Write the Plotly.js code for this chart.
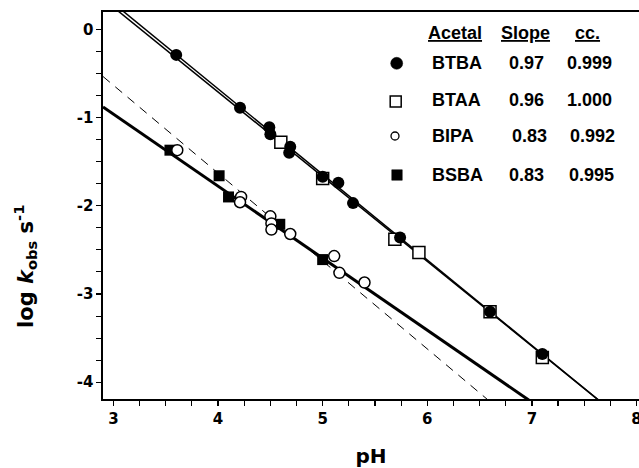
<!DOCTYPE html>
<html>
<head>
<meta charset="utf-8">
<script src="https://cdn.plot.ly/plotly-3.0.1.min.js"></script>
<style>html,body{margin:0;padding:0;background:#fff;}#chart{width:639px;height:468px;}</style>
</head>
<body>
<div id="chart"></div>
<script>
// ---- data ----
var btbaPH   = [3.60, 4.21, 4.49, 4.50, 4.69, 4.68, 5.00, 5.15, 5.29, 5.74, 6.60, 7.10];
var btbaLogK = [-0.29, -0.89, -1.11, -1.19, -1.33, -1.40, -1.67, -1.74, -1.97, -2.36, -3.20, -3.68];

var btaaPH   = [4.60, 5.00, 5.69, 5.92, 6.60, 7.10];
var btaaLogK = [-1.28, -1.69, -2.38, -2.53, -3.20, -3.72];

var bipaPH   = [3.61, 4.22, 4.21, 4.50, 4.51, 4.51, 4.69, 5.11, 5.16, 5.40];
var bipaLogK = [-1.37, -1.90, -1.96, -2.12, -2.20, -2.27, -2.32, -2.57, -2.76, -2.87];

var bsbaPH   = [3.54, 4.01, 4.10, 4.59, 5.00];
var bsbaLogK = [-1.37, -1.66, -1.90, -2.21, -2.61];

// fitted lines (end points)
var btbaFitPH = [3.0, 7.7],  btbaFitLogK = [0.295, -4.264];
var btaaFitPH = [3.0, 7.7],  btaaFitLogK = [0.25, -4.262];
var lowFitPH  = [2.9, 7.0],  lowFitLogK  = [-0.88, -4.226];
var dashPH    = [2.9, 6.6],  dashLogK    = [-0.535, -4.22];

// legend table
var acetals = ['BTBA', 'BTAA', 'BIPA', 'BSBA'];
var slopes  = ['0.97', '0.96', '0.83', '0.83'];
var ccs     = ['0.999', '1.000', '0.992', '0.995'];
var headers = ['Acetal', 'Slope', 'cc.'];

// ticks
var xTickVals = [3, 4, 5, 6, 7, 8];
var xTickText = ['3', '4', '5', '6', '7', '8'];
var yTickVals = [0, -1, -2, -3, -4];
var yTickText = ['0', '-1', '-2', '-3', '-4'];

// ---- drawing ----
var FONT = 'Liberation Sans, Arial, Helvetica, sans-serif';
var WIDE = 'DejaVu Sans, Verdana, sans-serif';
var traces = [
  {x: dashPH, y: dashLogK, mode: 'lines', line: {color: '#000', width: 1, dash: '9px,7px'}, hoverinfo: 'skip'},
  {x: lowFitPH, y: lowFitLogK, mode: 'lines', line: {color: '#000', width: 3}, hoverinfo: 'skip'},
  {x: btaaFitPH, y: btaaFitLogK, mode: 'lines', line: {color: '#000', width: 1.5}, hoverinfo: 'skip'},
  {x: btbaFitPH, y: btbaFitLogK, mode: 'lines', line: {color: '#000', width: 1.5}, hoverinfo: 'skip'},
  {x: bsbaPH, y: bsbaLogK, mode: 'markers', name: 'BSBA',
   marker: {symbol: 'square', size: 11, color: '#000', line: {width: 0}}},
  {x: bipaPH, y: bipaLogK, mode: 'markers', name: 'BIPA',
   marker: {symbol: 'circle', size: 11, color: '#fff', line: {color: '#000', width: 1.5}}},
  {x: btaaPH, y: btaaLogK, mode: 'markers', name: 'BTAA',
   marker: {symbol: 'square', size: 12, color: '#fff', line: {color: '#000', width: 1.5}}},
  {x: btbaPH, y: btbaLogK, mode: 'markers', name: 'BTBA',
   marker: {symbol: 'circle', size: 12, color: '#000', line: {width: 0}}}
];

var L = 103, T = 12, W = 536, H = 387;
function px(p) { return (p - L) / W; }
function py(p) { return (T + H - p) / H; }

var annotations = [];
var headX = [455, 525, 587];
headers.forEach(function (h, i) {
  annotations.push({xref: 'paper', yref: 'paper', x: px(headX[i]), y: py(33), text: '<u>' + h + '</u>',
    showarrow: false, xanchor: 'center', yanchor: 'middle',
    font: {family: FONT, size: 18, color: '#000', weight: 'bold'}});
});
var rowY = [63, 100, 135.5, 174.5];
var slopeX = [507, 507, 510, 507];
var ccX = [565, 565, 568, 567];
acetals.forEach(function (a, i) {
  annotations.push({xref: 'paper', yref: 'paper', x: px(430), y: py(rowY[i]), text: a,
    showarrow: false, xanchor: 'left', yanchor: 'middle',
    font: {family: FONT, size: 18, color: '#000', weight: 'bold'}});
  annotations.push({xref: 'paper', yref: 'paper', x: px(slopeX[i]), y: py(rowY[i]), text: slopes[i],
    showarrow: false, xanchor: 'left', yanchor: 'middle',
    font: {family: FONT, size: 18, color: '#000', weight: 'bold'}});
  annotations.push({xref: 'paper', yref: 'paper', x: px(ccX[i]), y: py(rowY[i]), text: ccs[i],
    showarrow: false, xanchor: 'left', yanchor: 'middle',
    font: {family: FONT, size: 18, color: '#000', weight: 'bold'}});
});
// y axis title
annotations.push({xref: 'paper', yref: 'paper', x: px(25), y: py(267), textangle: -90,
  text: 'log <i>k</i><sub>obs</sub> s<sup>-1</sup>', showarrow: false, xanchor: 'center', yanchor: 'middle',
  font: {family: WIDE, size: 21, color: '#000', weight: 'bold'}});

// legend symbols
function sym(type, cx, cy, s, filled, lw) {
  return {type: type, xref: 'paper', yref: 'paper', xsizemode: 'pixel', ysizemode: 'pixel',
    xanchor: px(cx), yanchor: py(cy), x0: -s / 2, x1: s / 2, y0: -s / 2, y1: s / 2,
    fillcolor: filled ? '#000' : '#fff', line: {color: '#000', width: lw}};
}
var shapes = [
  sym('circle', 396.7, 63.3, 12, true, 0.5),
  sym('rect', 395.7, 101.5, 11, false, 1.5),
  sym('circle', 395, 136, 8, false, 1.3),
  sym('rect', 397, 175, 10.5, true, 0.5)
];

var layout = {
  width: 639, height: 468,
  margin: {l: L, r: 0, t: T, b: 468 - T - H, pad: 0},
  paper_bgcolor: '#fff', plot_bgcolor: '#fff',
  showlegend: false,
  font: {family: FONT, color: '#000'},
  xaxis: {
    range: [2.9, 8.024], tickmode: 'array', tickvals: xTickVals, ticktext: xTickText,
    ticks: 'outside', ticklen: 5, tickwidth: 1.3, tickcolor: '#000', ticklabeloverflow: 'allow',
    showline: true, linewidth: 1.6, linecolor: '#000', mirror: true,
    showgrid: false, zeroline: false,
    minor: {tickmode: 'linear', tick0: 0, dtick: 0.25, ticks: 'outside', ticklen: 5, tickwidth: 1.1, tickcolor: '#000', showgrid: false},
    tickfont: {family: WIDE, size: 15, color: '#000', weight: 'bold'},
    title: {text: 'pH', standoff: 23, font: {family: WIDE, size: 20, color: '#000', weight: 'bold'}}
  },
  yaxis: {
    range: [-4.19, 0.196], tickmode: 'array', tickvals: yTickVals, ticktext: yTickText,
    ticks: 'outside', ticklen: 5, tickwidth: 1.3, tickcolor: '#000',
    showline: true, linewidth: 1.6, linecolor: '#000', mirror: false,
    showgrid: false, zeroline: false,
    minor: {tickmode: 'linear', tick0: 0, dtick: 0.25, ticks: 'outside', ticklen: 5, tickwidth: 1.1, tickcolor: '#000', showgrid: false},
    tickfont: {family: WIDE, size: 15, color: '#000', weight: 'bold'}
  },
  annotations: annotations,
  shapes: shapes
};

Plotly.newPlot('chart', traces, layout, {staticPlot: true, displayModeBar: false});
</script>
</body>
</html>
